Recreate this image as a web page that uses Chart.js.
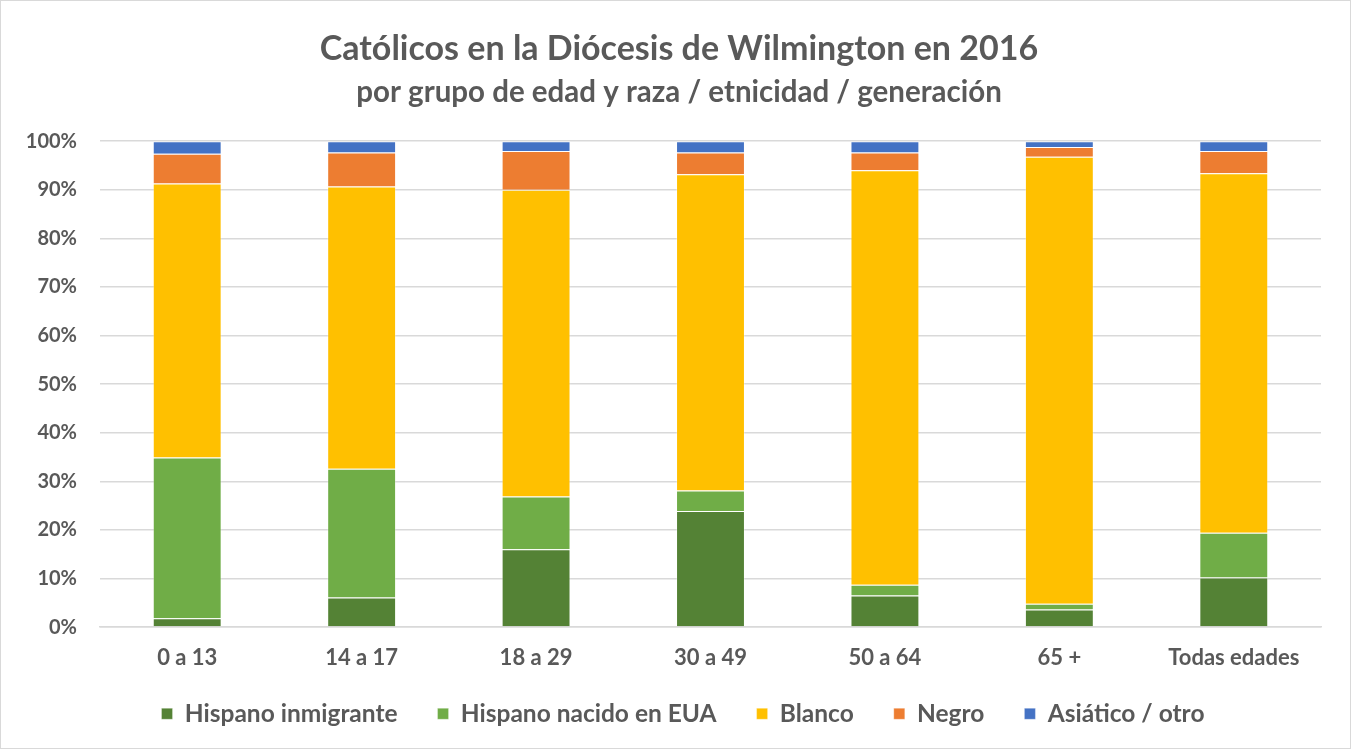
<!DOCTYPE html>
<html>
<head>
<meta charset="utf-8">
<script src="https://cdn.jsdelivr.net/npm/chart.js@4"></script>
<style>
  html, body { margin: 0; padding: 0; background: #fff; }
  #wrap { position: relative; width: 1351px; height: 749px; box-sizing: border-box; border: 1px solid #d9d9d9; }
</style>
</head>
<body>
<div id="wrap"><canvas id="chart"></canvas></div>
<script>
// age groups
const ageGroups = ['0 a 13', '14 a 17', '18 a 29', '30 a 49', '50 a 64', '65 +', 'Todas edades'];

// shares in percent
const hispanoInmigrante = [1.8, 6.1, 16.0, 23.9, 6.5, 3.6, 10.2];
const hispanoNacido     = [33.1, 26.5, 10.9, 4.2, 2.2, 1.2, 9.2];
const blanco            = [56.4, 58.1, 63.1, 65.1, 85.3, 92.0, 74.0];
const negro             = [6.1, 7.0, 8.0, 4.5, 3.7, 2.0, 4.6];
const asiatico          = [2.6, 2.3, 2.0, 2.3, 2.3, 1.2, 2.0];

const yTicks = [0, 10, 20, 30, 40, 50, 60, 70, 80, 90, 100];

const textGray = '#595959';
const fontName = 'Lato, "Liberation Sans", sans-serif';

// legend padding is wide horizontally (item gaps) but too tall vertically,
// so shrink its box and pull its top back up; also centre the texts like the original
const LEGEND_TRIM = 20;
const layoutTweaks = {
    id: 'layoutTweaks',
    beforeUpdate(chart) {
        const legend = chart.legend;
        if (legend && !legend._trimmed) {
            const fit = legend.fit;
            legend.fit = function () {
                fit.call(this);
                this.height -= LEGEND_TRIM;
            };
            legend._trimmed = true;
        }
    },
    afterLayout(chart) {
        chart.boxes.forEach(box => {
            if (box.axis) return;
            if (box === chart.legend) {
                box.top -= LEGEND_TRIM;
                box.left += 22;
                box.right += 22;
            } else {
                box.left += 18;
                box.right += 18;
            }
        });
    }
};

function series(label, data, colour) {
    return {
        label: label,
        data: data,
        backgroundColor: colour,
        borderColor: 'rgba(255,255,255,0.3)',
        borderWidth: 1,
        barPercentage: 0.395,
        categoryPercentage: 1.0
    };
}

const ctx = document.getElementById('chart').getContext('2d');
new Chart(ctx, {
    type: 'bar',
    data: {
        labels: ageGroups,
        datasets: [
            series('Hispano inmigrante', hispanoInmigrante, '#548235'),
            series('Hispano nacido en EUA', hispanoNacido, '#70AD47'),
            series('Blanco', blanco, '#FFC000'),
            series('Negro', negro, '#ED7D31'),
            series('Asiático / otro', asiatico, '#4472C4')
        ]
    },
    options: {
        responsive: true,
        maintainAspectRatio: false,
        animation: false,
        layout: {
            padding: { left: 0, right: 29, top: 0, bottom: 12 }
        },
        scales: {
            x: {
                stacked: true,
                grid: { display: false },
                border: { color: '#d9d9d9', width: 1.5 },
                ticks: {
                    color: textGray,
                    font: { family: fontName, size: 22, weight: 'bold' },
                    padding: 10
                }
            },
            y: {
                stacked: true,
                min: 0,
                max: 100,
                afterBuildTicks: scale => {
                    scale.ticks = yTicks.map(v => ({ value: v }));
                },
                afterFit: scale => {
                    scale.width = 99;
                },
                grid: { color: '#d9d9d9', lineWidth: 1.5, drawTicks: false },
                border: { display: false },
                ticks: {
                    color: textGray,
                    font: { family: fontName, size: 20, weight: 'bold' },
                    padding: 23,
                    callback: value => value + '%'
                }
            }
        },
        plugins: {
            title: {
                display: true,
                text: 'Católicos en la Diócesis de Wilmington en 2016',
                color: textGray,
                font: { family: fontName, size: 34, weight: 'bold' },
                padding: { top: 28, bottom: 5 }
            },
            subtitle: {
                display: true,
                text: 'por grupo de edad y raza / etnicidad / generación',
                color: textGray,
                font: { family: fontName, size: 29.5, weight: 'bold' },
                padding: { top: 0, bottom: 31 }
            },
            legend: {
                position: 'bottom',
                labels: {
                    color: textGray,
                    font: { family: fontName, size: 24.5, weight: 'bold' },
                    boxWidth: 11,
                    boxHeight: 11,
                    padding: 40
                }
            },
            tooltip: { enabled: false }
        }
    },
    plugins: [layoutTweaks]
});
</script>
</body>
</html>
